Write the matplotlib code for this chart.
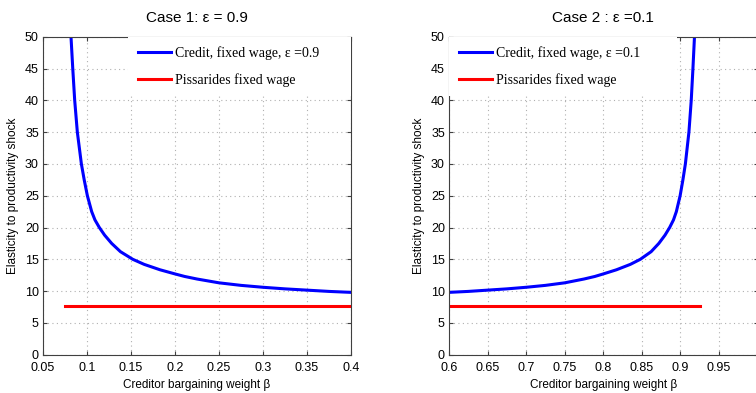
import matplotlib
matplotlib.use('Agg')
import matplotlib.pyplot as plt

# values
beta_case1 = [0.0818, 0.0838, 0.0860, 0.0890, 0.0936, 0.0968, 0.1004, 0.1053, 0.1090,
              0.1140, 0.1200, 0.1280, 0.1380, 0.1520, 0.1650, 0.1830, 0.2000, 0.2110,
              0.2250, 0.2500, 0.2750, 0.3000, 0.3250, 0.3500, 0.3750, 0.4000]
elast_case1 = [50.0, 45.0, 40.0, 35.0, 30.0, 27.5, 25.0, 22.5, 21.2,
               20.0, 18.8, 17.5, 16.2, 15.0, 14.2, 13.35, 12.7, 12.3,
               11.9, 11.3, 10.9, 10.6, 10.35, 10.15, 9.95, 9.8]

beta_case2 = [0.6000, 0.6250, 0.6500, 0.6750, 0.7000, 0.7250, 0.7500, 0.7750, 0.7890,
              0.8000, 0.8170, 0.8350, 0.8480, 0.8620, 0.8720, 0.8800, 0.8860, 0.8910,
              0.8947, 0.8996, 0.9032, 0.9064, 0.9110, 0.9140, 0.9162, 0.9182]
elast_case2 = [9.8, 9.95, 10.15, 10.35, 10.6, 10.9, 11.3, 11.9, 12.3,
               12.7, 13.35, 14.2, 15.0, 16.2, 17.5, 18.8, 20.0, 21.2,
               22.5, 25.0, 27.5, 30.0, 35.0, 40.0, 45.0, 50.0]

pissarides_level = 7.7
pissarides_beta1 = [0.075, 0.4]
pissarides_beta2 = [0.6, 0.925]

xticks1 = [0.05, 0.1, 0.15, 0.2, 0.25, 0.3, 0.35, 0.4]
xticks2 = [0.6, 0.65, 0.7, 0.75, 0.8, 0.85, 0.9, 0.95, 1.0]
xlabels1 = ['0.05', '0.1', '0.15', '0.2', '0.25', '0.3', '0.35', '0.4']
xlabels2 = ['0.6', '0.65', '0.7', '0.75', '0.8', '0.85', '0.9', '0.95', '']  # "1" falls off the picture
yticks = [0, 5, 10, 15, 20, 25, 30, 35, 40, 45, 50]

plt.rcParams['font.family'] = ['Liberation Sans', 'DejaVu Sans']

fig = plt.figure(figsize=(7.56, 3.93), dpi=100)
ax1 = fig.add_axes([0.0569, 0.0975, 0.4074, 0.809])
ax2 = fig.add_axes([0.5939, 0.0975, 0.4082, 0.809])

setups = [
    (ax1, beta_case1, elast_case1, pissarides_beta1, 'Case 1: ε = 0.9',
     'Credit, fixed wage, ε =0.9', (0.05, 0.4), xticks1, xlabels1, (0.276, 0.0, 0.724, 1.0)),
    (ax2, beta_case2, elast_case2, pissarides_beta2, 'Case 2 : ε =0.1',
     'Credit, fixed wage, ε =0.1', (0.6, 1.0), xticks2, xlabels2, (0.0, 0.0, 0.739, 1.0)),
]

for ax, bx, by, px, title, lab, xlim, xt, xl, anchor in setups:
    ax.plot(bx, by, color='#0000ff', lw=2.2, label=lab)
    ax.plot(px, [pissarides_level] * len(px), color='#ff0000', lw=2.2,
            label='Pissarides fixed wage')
    ax.set_xlim(*xlim)
    ax.set_ylim(0, 50)
    ax.set_xticks(xt)
    ax.set_xticklabels(xl)
    ax.set_yticks(yticks)
    ax.grid(True, ls=(0, (1, 3)), color='#b0b0b0', lw=0.8)
    ax.tick_params(direction='in', top=True, right=True, labelsize=9,
                   length=3, color='#404040')
    ax.tick_params(axis='x', pad=5)
    ax.tick_params(axis='y', pad=3)
    for s in ax.spines.values():
        s.set_color('#404040')
        s.set_linewidth(0.8)
    ax.set_title(title, fontsize=11, pad=10.5)
    ax.set_xlabel('Creditor bargaining weight β', fontsize=8.5, labelpad=4)
    ax.set_ylabel('Elasticity to productivity shock', fontsize=8.5, labelpad=4)
    leg = ax.legend(loc='upper left', bbox_to_anchor=anchor, mode='expand',
                    frameon=True, fancybox=False, edgecolor='white',
                    framealpha=1.0, borderaxespad=0.0, borderpad=0.7,
                    handlelength=2.4, handletextpad=0.3, labelspacing=0.9,
                    prop={'family': 'Liberation Serif', 'size': 10})
    leg.get_frame().set_linewidth(0)

fig.savefig('out.png', dpi=100)
